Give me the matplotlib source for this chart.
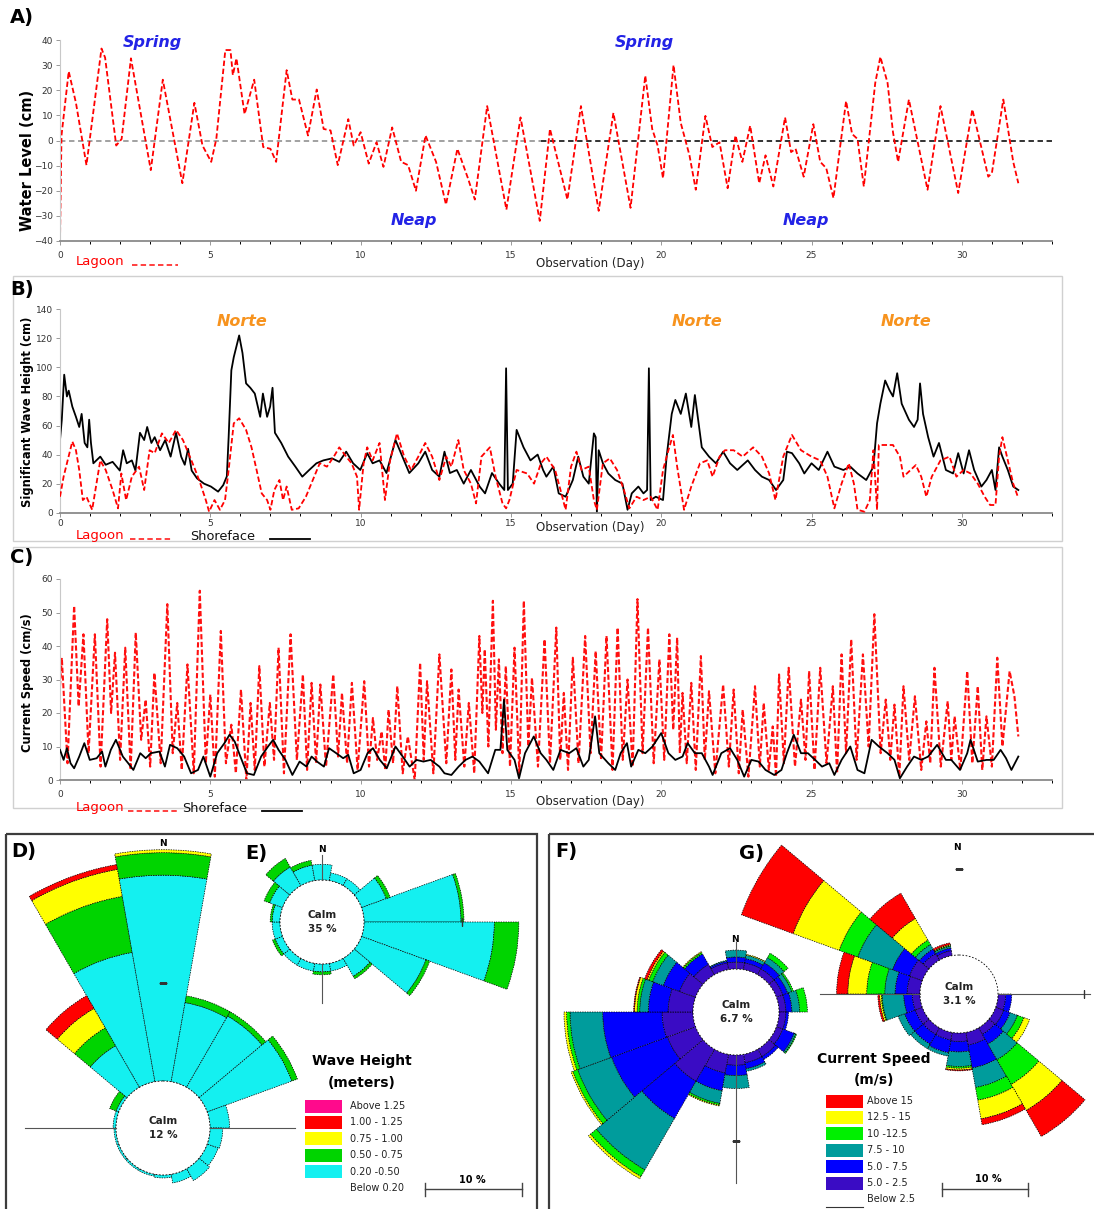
import numpy as np
import matplotlib
matplotlib.use("Agg")
import matplotlib.pyplot as plt
from matplotlib.ticker import MultipleLocator
from matplotlib.patches import Rectangle

W, H = 1094, 1209

# ---------------- A) lagoon water level (cm), turning points
wl_day = [0.0, 0.05, 0.29, 0.53, 0.88, 1.38, 1.5, 1.87, 2.05, 2.36, 3.02, 3.42, 4.07, 4.47, 4.74, 5.03,
          5.2, 5.5, 5.67, 5.75, 5.87, 6.14, 6.46, 6.76, 7.0, 7.19, 7.54, 7.73, 7.95, 8.25, 8.54, 8.77,
          9.0, 9.24, 9.59, 9.77, 10.0, 10.27, 10.53, 10.76, 11.05, 11.35, 11.58, 11.84, 12.16, 12.51,
          12.84, 13.22, 13.57, 13.8, 14.21, 14.85, 15.32, 15.96, 16.3, 16.88, 17.33, 17.92, 18.41,
          18.98, 19.47, 19.7, 19.88, 20.06, 20.41, 20.65, 20.94, 21.15, 21.47, 21.7, 21.94, 22.21,
          22.47, 22.7, 22.96, 23.26, 23.47, 23.73, 24.12, 24.32, 24.47, 24.74, 25.06, 25.29, 25.49,
          25.73, 26.15, 26.35, 26.53, 26.74, 27.12, 27.29, 27.53, 27.71, 27.88, 28.24, 28.86, 29.29,
          29.88, 30.35, 30.88, 31.0, 31.38, 31.71, 31.88]
wl_val = [-40, 2, 27.5, 15, -9.8, 36.6, 33, -2, 0.6, 32.7, -11.8, 24.2, -17, 15, -2, -8.5,
          0.6, 36, 36, 26, 32.7, 10.5, 24.2, -2.6, -3.3, -8.5, 28, 16.3, 16.3, 2, 20.3, 4.6,
          4, -9.8, 8.5, -2, 3.3, -9.2, -0.7, -10.5, 5.2, -8.5, -9.8, -20, 2, -8.5,
          -25.5, -3.3, -15, -23.5, 13.7, -27.5, 9.2, -32, 4.6, -23.5, 13.7, -28, 11,
          -26.8, 25.8, 4.6, -2, -15, 30, 7, -5.9, -19.6, 9.8, -2.6, -0.7, -19,
          2, -8.5, 5.9, -17, -5.9, -18.3, 9.2, -4.6, -3.3, -14.4, 6.5, -8.5, -11,
          -22.9, 15.7, 2.6, 0.6, -18.3, 22.9, 33.3, 22.9, 3.3, -8.5, 16.3, -19.6, 13.7,
          -20.9, 12.4, -14.4, -13, 16.3, -8.5, -17]

# ---------------- B) significant wave height (cm)
hs_shore_day = [0, 0.06, 0.14, 0.23, 0.29, 0.41, 0.53, 0.64, 0.72, 0.82, 0.91, 0.97, 1.03, 1.11, 1.34,
                1.52, 1.75, 1.99, 2.1, 2.22, 2.39, 2.51, 2.66, 2.8, 2.9, 3.04, 3.15, 3.33, 3.5, 3.68,
                3.86, 4.03, 4.15, 4.26, 4.38, 4.56, 4.79, 5.02, 5.26, 5.43, 5.55, 5.61, 5.7, 5.78,
                5.96, 6.07, 6.19, 6.33, 6.48, 6.66, 6.75, 6.89, 6.99, 7.07, 7.15, 7.36, 7.59, 7.83,
                8.06, 8.29, 8.53, 8.76, 9.05, 9.29, 9.52, 9.75, 9.99, 10.22, 10.4, 10.63, 10.86,
                11.16, 11.39, 11.62, 11.92, 12.15, 12.38, 12.62, 12.79, 12.97, 13.2, 13.43, 13.67,
                13.96, 14.14, 14.37, 14.61, 14.78, 14.84, 14.9, 15.06, 15.19, 15.42, 15.65, 15.89,
                16.07, 16.18, 16.41, 16.59, 16.82, 17.06, 17.24, 17.41, 17.59, 17.76, 17.82, 17.86,
                17.92, 18.06, 18.24, 18.47, 18.71, 18.88, 19.02, 19.24, 19.41, 19.53, 19.59, 19.65,
                19.82, 20.06, 20.18, 20.35, 20.47, 20.65, 20.82, 21.0, 21.12, 21.35, 21.59, 21.82,
                22.06, 22.29, 22.53, 22.88, 23.12, 23.35, 23.59, 23.82, 24.06, 24.18, 24.35, 24.59,
                24.76, 25.0, 25.24, 25.53, 25.76, 26.06, 26.29, 26.53, 26.82, 27.06, 27.18, 27.29,
                27.45, 27.59, 27.71, 27.85, 28.0, 28.24, 28.41, 28.53, 28.61, 28.71, 28.88, 29.06,
                29.24, 29.47, 29.71, 29.88, 30.06, 30.24, 30.41, 30.65, 30.82, 31.0, 31.12, 31.24,
                31.35, 31.53, 31.71, 31.88]
hs_shore_val = [50, 64, 95, 80, 84, 73, 66, 59, 68, 48, 45, 64, 48, 34, 38.6,
                33, 35, 29, 43, 34, 36, 29, 55, 50, 59, 48, 52, 43, 50, 38.6,
                55, 38.6, 33, 44, 29, 23.6, 20, 18, 14.5, 19, 25, 52, 98, 107,
                122, 110, 89, 86, 82, 66, 82, 66, 73, 86, 55, 48, 38.6, 31.7,
                24.8, 29.4, 34, 36, 37.4, 35, 42, 34, 29.4, 41, 34, 36, 27.3,
                50, 38.6, 27.3, 34, 42, 29.4, 24.8, 42, 27.3, 29.4, 20, 29.4,
                18, 13.3, 27.3, 20, 15.6, 99.4, 15.6, 20, 57, 45, 36, 40,
                29.4, 24.8, 31.7, 13.3, 11, 22.5, 38.6, 24.8, 20, 54.6, 52, 0,
                43, 34, 27, 22.5, 20, 2, 13.3, 18, 13.3, 15.6, 99.4, 8.7,
                11, 8.7, 38.6, 68, 77.6, 68, 82, 59, 81, 45, 38.6, 34,
                42, 34, 29.4, 36, 29.4, 24.8, 22.5, 15.6, 22.5, 42, 41, 34,
                27, 34, 29.4, 42, 31.7, 29.4, 31.7, 27, 22.5, 31.7, 61.5, 75,
                91, 84.5, 80, 96, 75, 64, 59, 64, 89, 68, 52, 38.6,
                48, 29.4, 27, 41, 27, 43, 29.4, 18, 22.5, 29.4, 15.6, 45,
                38.6, 29.4, 18, 15.6]
hs_lag_day = [0, 0.12, 0.41, 0.53, 0.64, 0.76, 0.88, 1.07, 1.34, 1.52, 1.75, 1.93, 2.04, 2.2, 2.39,
              2.63, 2.8, 2.98, 3.15, 3.39, 3.62, 3.86, 4.09, 4.32, 4.5, 4.67, 4.85, 4.96, 5.14, 5.32,
              5.49, 5.61, 5.78, 5.96, 6.19, 6.37, 6.54, 6.71, 6.89, 7.0, 7.13, 7.3, 7.42, 7.54, 7.71,
              7.94, 8.18, 8.41, 8.64, 8.88, 9.11, 9.29, 9.52, 9.7, 9.88, 9.95, 10.1, 10.22, 10.4,
              10.63, 10.81, 10.98, 11.21, 11.45, 11.68, 11.92, 12.15, 12.38, 12.62, 12.85, 13.02,
              13.25, 13.43, 13.67, 13.84, 14.02, 14.3, 14.49, 14.72, 14.84, 14.95, 15.19, 15.54,
              15.77, 16.0, 16.18, 16.47, 16.65, 16.82, 17.0, 17.18, 17.35, 17.59, 17.76, 17.86,
              18.06, 18.29, 18.53, 18.76, 18.94, 19.18, 19.41, 19.65, 19.88, 20.06, 20.24, 20.39,
              20.53, 20.76, 21.0, 21.29, 21.53, 21.71, 21.94, 22.12, 22.41, 22.71, 23.06, 23.35,
              23.59, 23.8, 24.06, 24.35, 24.65, 25.0, 25.29, 25.53, 25.76, 26.0, 26.24, 26.41,
              26.53, 26.76, 26.94, 27.06, 27.18, 27.24, 27.71, 27.94, 28.06, 28.47, 28.65, 28.82,
              29.0, 29.29, 29.59, 29.82, 30.06, 30.29, 30.53, 30.76, 30.94, 31.12, 31.24, 31.35,
              31.53, 31.71, 31.88]
hs_lag_val = [11, 24.8, 49, 43, 29.4, 8.7, 11, 2, 36, 29.4, 15.6, 3, 27, 8.7, 24.8,
              31.7, 15.6, 43, 41, 54.6, 48, 57, 50, 38.6, 29.4, 20, 8.7, 0.7, 8.7, 2,
              8.7, 29.4, 61.5, 65, 57, 45, 29.4, 13.3, 8.7, 2, 15.6, 22.5, 8.7, 18, 2,
              3, 11, 22.5, 34, 31.7, 38.6, 45, 38.6, 34, 24.8, 2, 34, 45, 36,
              48, 8.7, 36, 54.6, 38.6, 29.4, 38.6, 48, 38.6, 22.5, 38.6, 31.7,
              50, 29.4, 20, 6.4, 38.6, 45, 24.8, 6.4, 3, 8.7, 29.4, 27,
              20, 34, 38.6, 29.4, 15.6, 2, 31.7, 42, 29.4, 31.7, 8.7, 2,
              34, 37.4, 29.4, 15.6, 3, 11, 8.7, 11, 2, 29.4, 43, 53.5,
              31.7, 2, 18, 34, 36, 24.8, 38.6, 43, 43, 38.6, 45, 38.6,
              27, 8.7, 38.6, 53.5, 43, 38.6, 36, 24.8, 3, 20, 34, 20,
              2, 0.7, 8.7, 43, 2, 46.6, 46.6, 38.6, 24.8, 32.8, 24.8, 11,
              24.8, 36, 38.6, 24.8, 29.4, 27, 20, 11, 5.3, 5.3, 38.6, 52,
              36, 20, 10]

# ---------------- C) current speed (cm/s)
cs_lag_day = [0.0, 0.06, 0.25, 0.47, 0.62, 0.78, 0.95, 1.16, 1.35, 1.57, 1.7, 1.83, 2.0, 2.17, 2.35,
              2.52, 2.7, 2.85, 3.0, 3.14, 3.35, 3.57, 3.75, 3.9, 4.05, 4.24, 4.45, 4.65, 4.85, 5.0,
              5.15, 5.35, 5.52, 5.7, 5.85, 6.02, 6.2, 6.34, 6.48, 6.63, 6.8, 6.98, 7.12, 7.27, 7.45,
              7.67, 7.88, 8.08, 8.22, 8.37, 8.52, 8.66, 8.85, 9.09, 9.25, 9.38, 9.55, 9.71, 9.9,
              10.12, 10.28, 10.41, 10.55, 10.7, 10.82, 10.93, 11.08, 11.22, 11.4, 11.57, 11.8, 11.98,
              12.1, 12.21, 12.42, 12.62, 12.85, 13.02, 13.15, 13.26, 13.45, 13.6, 13.78, 13.95, 14.05,
              14.13, 14.25, 14.4, 14.5, 14.6, 14.72, 14.83, 14.97, 15.12, 15.28, 15.43, 15.58, 15.7,
              15.9, 16.12, 16.3, 16.51, 16.64, 16.76, 16.9, 17.06, 17.25, 17.47, 17.65, 17.82, 18.0,
              18.18, 18.38, 18.55, 18.72, 18.88, 19.05, 19.21, 19.38, 19.56, 19.75, 19.94, 20.1,
              20.27, 20.4, 20.53, 20.62, 20.71, 20.85, 21.0, 21.15, 21.32, 21.45, 21.59, 21.8,
              22.06, 22.25, 22.41, 22.58, 22.71, 22.9, 23.12, 23.28, 23.41, 23.58, 23.71, 23.82,
              23.92, 24.08, 24.24, 24.45, 24.65, 24.8, 24.92, 25.1, 25.29, 25.5, 25.71, 25.85,
              26.0, 26.15, 26.32, 26.5, 26.71, 26.9, 27.09, 27.3, 27.47, 27.62, 27.76, 27.92,
              28.06, 28.25, 28.44, 28.65, 28.82, 28.95, 29.09, 29.3, 29.53, 29.65, 29.76, 29.95,
              30.18, 30.35, 30.53, 30.68, 30.82, 31.0, 31.18, 31.35, 31.59, 31.75, 31.88]
cs_lag_val = [28, 36.5, 5, 52, 22, 43.5, 8, 43.5, 4, 48, 20, 38, 6, 39.5, 3,
              44, 12, 24, 4, 32, 5, 52.5, 8, 23, 3, 34.5, 2, 56.5, 5, 25.5,
              1, 44.5, 5, 16.5, 2, 27, 0, 23, 3, 34, 4, 23, 6, 39.5, 2,
              43.5, 6, 31.5, 3, 29, 5, 28.5, 4, 31.5, 7, 26, 5, 29, 3,
              29.5, 4, 18.5, 6, 14.5, 3, 21, 5, 28, 2, 13, 0, 35,
              6, 29.5, 2, 37.5, 5, 33, 6, 27, 4, 23, 2, 43, 20,
              39, 10, 53.5, 15, 36, 8, 34, 4, 39.5, 2, 53.5, 10, 30.5,
              4, 42, 5, 45.5, 6, 26, 3, 36.5, 5, 43, 8, 38.5, 6,
              43, 3, 45.5, 6, 30, 4, 54, 8, 45.5, 5, 36, 6,
              43.5, 15, 42.5, 8, 26, 5, 29, 3, 37, 6, 26.5, 2,
              28.5, 4, 27, 2, 21, 1, 28, 4, 23, 3, 16, 1,
              31.5, 5, 33.5, 4, 24, 6, 32.5, 3, 33.5, 5, 28, 2,
              37.5, 8, 42, 6, 37.5, 10, 49.5, 8, 24, 6, 22.5, 1,
              28, 6, 25, 3, 17.5, 5, 33.5, 4, 23.5, 6, 19, 3,
              32.5, 5, 28, 3, 19, 4, 36.5, 10, 32.5, 25, 13]
cs_shore_day = [0, 0.12, 0.23, 0.35, 0.47, 0.64, 0.81, 0.99, 1.22, 1.4, 1.51, 1.69, 1.86, 2.09, 2.27,
                2.44, 2.67, 2.85, 3.02, 3.31, 3.49, 3.66, 3.9, 4.13, 4.36, 4.59, 4.77, 5.0, 5.23,
                5.47, 5.64, 5.81, 6.0, 6.22, 6.45, 6.69, 6.92, 7.09, 7.27, 7.5, 7.73, 7.97, 8.2,
                8.37, 8.55, 8.78, 8.95, 9.19, 9.42, 9.59, 9.77, 10.0, 10.23, 10.41, 10.64, 10.87,
                11.16, 11.4, 11.63, 11.86, 12.09, 12.33, 12.62, 12.79, 13.02, 13.26, 13.49, 13.72,
                13.95, 14.24, 14.48, 14.65, 14.77, 14.88, 15.12, 15.27, 15.47, 15.76, 15.99, 16.18,
                16.41, 16.65, 16.94, 17.18, 17.41, 17.59, 17.8, 17.94, 18.24, 18.47, 18.65, 18.86,
                19.0, 19.24, 19.47, 19.71, 20.0, 20.24, 20.47, 20.71, 20.88, 21.12, 21.35, 21.59,
                21.71, 22.0, 22.29, 22.53, 22.76, 23.0, 23.24, 23.47, 23.76, 24.0, 24.18, 24.41,
                24.65, 24.88, 25.12, 25.35, 25.59, 25.76, 26.0, 26.29, 26.53, 26.76, 27.0, 27.24,
                27.53, 27.76, 27.94, 28.18, 28.41, 28.65, 28.88, 29.18, 29.47, 29.65, 29.94, 30.18,
                30.29, 30.53, 30.82, 31.06, 31.29, 31.47, 31.65, 31.88]
cs_shore_val = [9, 6, 9.5, 5, 3.5, 7, 11, 6, 6.5, 8.5, 4, 9, 12, 7, 5,
                3, 8, 6.5, 8, 8.5, 4, 10.5, 9.5, 7, 2, 3, 7, 1, 8,
                11, 13.5, 11.5, 7, 2, 1.5, 7, 10, 12, 9, 6, 1.5, 5.5, 4,
                7, 5.5, 4, 9.5, 8, 6.5, 7.5, 2, 3, 8, 9.5, 6, 3.5,
                10, 7, 4, 6, 5.5, 6, 4, 2, 1.5, 4, 6, 7,
                5.5, 2, 9, 9, 24, 9, 6, 0.5, 8, 13, 8, 6,
                3, 9, 8, 9.5, 4, 6, 19, 8, 5, 3, 8, 11,
                4, 9, 8, 10, 14, 8, 6, 7, 11, 8, 8, 4,
                1.5, 8, 9.5, 6, 1, 6, 5.5, 3, 1.5, 3, 8, 13.5,
                8, 8, 6, 4, 5, 1.5, 6, 10, 3, 2, 12, 10,
                8, 6, 0.5, 4, 7, 6, 7, 10.5, 6, 6, 3, 8,
                12, 5.5, 6, 6, 9, 6.5, 3, 7]

# ---------------- D-G) roses: percentage per class, 18 sectors of 20 deg from N clockwise
directions = np.arange(0, 360, 20)
wave_labels = ["Above 1.25", "1.00 - 1.25", "0.75 - 1.00", "0.50 - 0.75", "0.20 -0.50", "Below 0.20"]
D_020_050 = [21.0, 8.2, 8.4, 9.2, 2.0, 1.3, 1.2, 1.4, 0.9, 0.3, 0.2, 0.2, 0.2, 0.2, 0.3, 0.3, 4.9, 13.4]
D_050_075 = [2.3, 0.7, 0.5, 0.6, 0, 0, 0, 0, 0, 0, 0, 0, 0, 0, 0, 0.7, 2.1, 5.8]
D_075_100 = [0.3, 0, 0, 0, 0, 0, 0, 0, 0, 0, 0, 0, 0, 0, 0, 0, 2.3, 2.8]
D_100_125 = [0, 0, 0, 0, 0, 0, 0, 0, 0, 0, 0, 0, 0, 0, 0, 0, 1.5, 0.5]
E_020_050 = [1.6, 0.8, 0.8, 2.7, 9.9, 13.3, 7.0, 2.1, 0.8, 0.8, 0.8, 0.8, 0.8, 0.8, 0.8, 1.4, 2.2, 1.6]
E_050_075 = [0, 0, 0, 0.4, 0.3, 2.5, 0.4, 0.3, 0, 0.3, 0, 0, 0.3, 0, 0.2, 0.6, 1.0, 0.5]

speed_labels = ["Above 15", "12.5 - 15", "10 -12.5", "7.5 - 10", "5.0 - 7.5", "5.0 - 2.5", "Below 2.5"]
F_25_50 = [0.8, 0.8, 0.8, 0.8, 0.8, 0.8, 0.8, 1.0, 1.0, 1.2, 2.2, 4.3, 3.5, 3.6, 2.9, 2.0, 1.4, 0.8]
F_50_75 = [0.6, 0.5, 0.8, 0.6, 0.7, 0.3, 1.4, 0.4, 0.7, 1.2, 2.1, 5.0, 6.9, 6.9, 2.3, 2.0, 1.4, 0.2]
F_75_10 = [0.8, 0.4, 0.7, 0.5, 0.9, 0, 0.2, 0, 0.3, 1.5, 1.5, 6.9, 4.2, 3.8, 1.0, 1.3, 0, 0.1]
F_10_125 = [0, 0, 0.6, 0.2, 0.9, 0, 0.1, 0, 0, 0, 0.2, 0.9, 0.6, 0.4, 0.3, 0.5, 0.2, 0]
F_125_15 = [0, 0.1, 0, 0, 0, 0, 0, 0, 0, 0, 0.1, 0.3, 0.2, 0.3, 0.3, 0.2, 0.1, 0]
F_15 = [0, 0, 0, 0, 0, 0, 0, 0, 0, 0, 0, 0, 0, 0, 0.1, 0.3, 0, 0]
G_25_50 = [0, 0, 0, 0, 0, 0.9, 1.0, 0.9, 1.5, 1.0, 0.9, 0.9, 0.9, 0.9, 1.5, 1.6, 0.9, 0.6]
G_50_75 = [0, 0, 0, 0, 0, 0.7, 0.8, 1.3, 2.7, 1.2, 1.5, 1.3, 1.3, 1.0, 1.4, 2.1, 0.6, 0.3]
G_75_10 = [0, 0, 0, 0, 0, 0, 0.9, 2.1, 2.3, 1.7, 0.4, 0.6, 0.8, 2.5, 1.2, 4.3, 0.6, 0.2]
G_10_125 = [0, 0, 0, 0, 0, 0, 0.8, 3.3, 1.5, 0.2, 0, 0, 0, 0.1, 2.1, 2.3, 0.6, 0.1]
G_125_15 = [0, 0, 0, 0, 0, 0, 0.7, 3.5, 2.2, 0.2, 0, 0, 0, 0.2, 2.2, 5.7, 2.9, 0.1]
G_15 = [0, 0, 0, 0, 0, 0, 0, 3.5, 0.7, 0.1, 0, 0, 0, 0.2, 1.3, 6.4, 3.4, 0.2]

WAVE_COLORS = ["#FF0A8C", "#FF0000", "#FFFF00", "#00D400", "#14F0F0", "white"]
SPEED_COLORS = ["#FF0000", "#FFFF00", "#00F000", "#009C9C", "#0000FF", "#3A0CC4", "white"]

fig = plt.figure(figsize=(W / 100, H / 100), dpi=100)


def frac(x0, y0, x1, y1):
    return [x0 / W, 1 - y1 / H, (x1 - x0) / W, (y1 - y0) / H]


def style_ts(ax, ylo, yhi, step, xpad=4):
    ax.set_xlim(0, 33)
    ax.set_ylim(ylo, yhi)
    ax.xaxis.set_major_locator(MultipleLocator(5))
    ax.xaxis.set_minor_locator(MultipleLocator(1))
    ax.yaxis.set_major_locator(MultipleLocator(step))
    ax.tick_params(labelsize=6.5, colors="#999999", labelcolor="#333333", length=3, width=0.7, pad=2)
    ax.tick_params(which="minor", length=2.5, width=0.7)
    ax.tick_params(axis="x", pad=xpad)
    for s in ("top", "right"):
        ax.spines[s].set_visible(False)
    ax.spines["left"].set_color("#c8c8c8")
    ax.spines["left"].set_linewidth(0.8)
    ax.spines["bottom"].set_color("#8a8a8a")
    ax.spines["bottom"].set_linewidth(1.3)
    ax.patch.set_alpha(0)


# A
axA = fig.add_axes(frac(60, 40, 1052, 241))
axA.hlines(0, 0, 16, colors="#9a9a9a", linestyles=(0, (3, 2)), lw=1.3, zorder=1)
axA.hlines(0, 16, 33, colors="#222222", linestyles=(0, (3, 2)), lw=1.3, zorder=1)
axA.plot(wl_day, wl_val, color="#FF0000", lw=1.3, dashes=(3, 1.5), zorder=2)
style_ts(axA, -40, 40, 10)

# B
axB = fig.add_axes(frac(60, 309.3, 1052, 512.7))
axB.plot(hs_shore_day, hs_shore_val, color="black", lw=1.3, zorder=2)
axB.plot(hs_lag_day, hs_lag_val, color="#FF0000", lw=1.3, dashes=(3, 1.5), zorder=3)
style_ts(axB, 0, 140, 20, xpad=1.5)

# C
axC = fig.add_axes(frac(60, 579, 1052, 780))
axC.plot(cs_lag_day, cs_lag_val, color="#FF1010", lw=1.5, dashes=(2.5, 1.2), zorder=2)
axC.plot(cs_shore_day, cs_shore_val, color="black", lw=1.3, zorder=3)
style_ts(axC, 0, 60, 10)


def rose(cx, cy, pxpp, calm_px, extent, layers, colors, calm_text, arms, ticks):
    ax = fig.add_axes(frac(cx - extent, cy - extent, cx + extent, cy + extent), projection="polar")
    ax.set_theta_zero_location("N")
    ax.set_theta_direction(-1)
    ax.set_ylim(0, extent / pxpp)
    ax.set_axis_off()
    calm = calm_px / pxpp
    th = np.deg2rad(directions)
    width = 2 * np.pi / len(directions)
    base = np.full(len(directions), calm)
    for vals, c in zip(layers, colors):
        vals = np.asarray(vals, float)
        m = vals > 0
        ax.bar(th[m], vals[m], width=width, bottom=base[m], color=c, edgecolor="black",
               linewidth=0.5, linestyle=(0, (2, 1.5)), zorder=2)
        base = base + vals
    ax.bar(0, calm, width=2 * np.pi, bottom=0, color="white", edgecolor="none", zorder=3)
    circ = np.linspace(0, 2 * np.pi, 181)
    ax.plot(circ, np.full(181, calm), color="black", lw=0.6, ls=(0, (2, 2)), zorder=3.5)
    for ang, length_px in arms:
        ax.plot([np.deg2rad(ang)] * 2, [calm, length_px / pxpp], color="#555555", lw=0.8, zorder=4)
    for ang, mk in ticks:
        ax.plot(np.deg2rad(ang), calm + 10, marker=mk, ms=6, mew=1, color="#333333", zorder=4)
    ax.text(0, 0, calm_text, ha="center", va="center", fontsize=7.5, fontweight="bold",
            linespacing=1.6, color="#222222", zorder=5)
    return ax


rose(163, 1128, 9.8, 47, 300, [D_020_050, D_050_075, D_075_100, D_100_125],
     WAVE_COLORS[4:0:-1], "Calm\n12 %", [(270, 138), (90, 132)], [(0, "_")])
rose(322, 922, 9.8, 42, 220, [E_020_050, E_050_075],
     WAVE_COLORS[4:2:-1], "Calm\n35 %", [(180, 81), (0, 67)], [(90, "|")])
rose(736, 1012, 8.6, 43, 200, [F_25_50, F_50_75, F_75_10, F_10_125, F_125_15, F_15],
     SPEED_COLORS[5::-1], "Calm\n6.7 %", [(0, 70), (180, 171)], [(180, "_")])
rose(959, 994, 8.6, 39, 250, [G_25_50, G_50_75, G_75_10, G_10_125, G_125_15, G_15],
     SPEED_COLORS[5::-1], "Calm\n3.1 %", [(270, 139), (90, 131)], [(90, "|"), (0, "_")])

# ---------------- overlay in pixel coordinates: labels, frames, legends
ov = fig.add_axes([0, 0, 1, 1], zorder=10)
ov.set_xlim(0, W)
ov.set_ylim(H, 0)
ov.axis("off")

ov.add_patch(Rectangle((13, 276), 1049, 265, fill=False, ec="#d0d0d0", lw=1))
ov.add_patch(Rectangle((13, 547), 1049, 261, fill=False, ec="#d0d0d0", lw=1))
ov.add_patch(Rectangle((6, 834), 531, 400, fill=False, ec="#3c3c3c", lw=1.6))
ov.add_patch(Rectangle((549, 834), 560, 400, fill=False, ec="#3c3c3c", lw=1.6))

for lab, x, y in [("A)", 22, 18), ("B)", 22, 290), ("C)", 22, 557),
                  ("D)", 24, 852), ("E)", 256, 853), ("F)", 566, 852), ("G)", 752, 853)]:
    ov.text(x, y, lab, fontsize=14, fontweight="bold", ha="center", va="center")

for lab, y, fs in [("Water Level (cm)", 160, 10.5), ("Significant Wave Height (cm)", 412, 8.3),
                   ("Current Speed (cm/s)", 683, 8.3)]:
    ov.text(28, y, lab, rotation=90, fontsize=fs, fontweight="bold", ha="center", va="center")

for y in (263, 528, 802):
    ov.text(590, y, "Observation (Day)", fontsize=8.5, ha="center", va="center", color="#222222")

for lab, x, y in [("Spring", 152, 43), ("Spring", 644, 43), ("Neap", 414, 220), ("Neap", 806, 220)]:
    ov.text(x, y, lab, fontsize=11.5, fontweight="bold", fontstyle="italic", color="#2323E6",
            ha="center", va="center")
for x in (242, 697, 906):
    ov.text(x, 322, "Norte", fontsize=11.5, fontweight="bold", fontstyle="italic", color="#F7931E",
            ha="center", va="center")

# series keys under panels
for y, x0, x1, sx in [(262, 132, 178, None), (536, 130, 172, 190), (808, 128, 178, 182)]:
    ov.text(76, y, "Lagoon", color="#FF0000", fontsize=9.5, ha="left", va="center")
    ov.plot([x0, x1], [y + 3, y + 3], color="#FF3030", lw=1.3, dashes=(3, 1.8))
    if sx is not None:
        ov.text(sx, y, "Shoreface", color="#111111", fontsize=9.3, ha="left", va="center")
        ov.plot([sx + 80, sx + 120], [y + 3, y + 3], color="black", lw=1.3)

for lab, x, y in [("N", 163, 843), ("N", 322, 849), ("N", 735, 940), ("N", 957, 848)]:
    ov.text(x, y, lab, fontsize=6.5, fontweight="bold", ha="center", va="center")

# wave height key
ov.text(362, 1061, "Wave Height", fontsize=10, fontweight="bold", ha="center", va="center")
ov.text(362, 1083, "(meters)", fontsize=10, fontweight="bold", ha="center", va="center")
for i, (lab, c) in enumerate(zip(wave_labels, WAVE_COLORS)):
    y = 1106 + i * 16.4
    ov.add_patch(Rectangle((305, y - 6.5), 37, 13, fc=c, ec="none"))
    ov.text(350, y, lab, fontsize=7, ha="left", va="center", color="#222222")
ov.plot([425, 522], [1189, 1189], color="#444444", lw=1)
ov.plot([425, 425], [1183, 1196], color="#444444", lw=1)
ov.plot([522, 522], [1183, 1196], color="#444444", lw=1)
ov.text(472, 1180, "10 %", fontsize=7, fontweight="bold", ha="center", va="center")

# current speed key
ov.text(874, 1059, "Current Speed", fontsize=10, fontweight="bold", ha="center", va="center")
ov.text(874, 1080, "(m/s)", fontsize=10, fontweight="bold", ha="center", va="center")
for i, (lab, c) in enumerate(zip(speed_labels, SPEED_COLORS)):
    y = 1101 + i * 16.4
    ov.add_patch(Rectangle((826, y - 6.5), 37, 13, fc=c, ec="none"))
    ov.text(867, y, lab, fontsize=7, ha="left", va="center", color="#222222")
ov.plot([826, 863], [1207, 1207], color="#333333", lw=0.8)
ov.plot([942, 1028], [1189, 1189], color="#444444", lw=1)
ov.plot([942, 942], [1183, 1196], color="#444444", lw=1)
ov.plot([1028, 1028], [1183, 1196], color="#444444", lw=1)
ov.text(988, 1179, "10 %", fontsize=7, fontweight="bold", ha="center", va="center")

fig.savefig("out.png", dpi=100)
